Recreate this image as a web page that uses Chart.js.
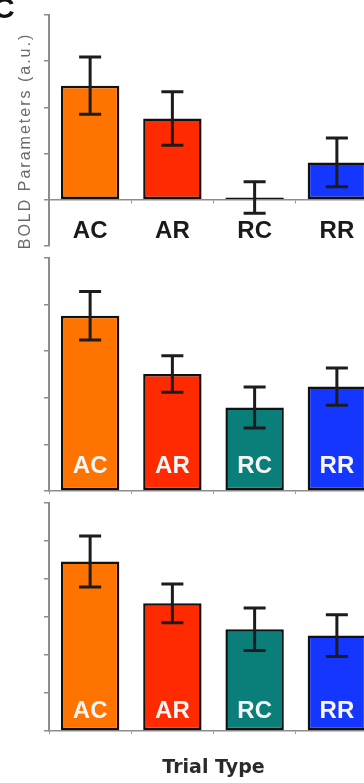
<!DOCTYPE html>
<html>
<head>
<meta charset="utf-8">
<script src="https://cdn.jsdelivr.net/npm/chart.js@4/dist/chart.umd.min.js"></script>
<style>
  html, body { margin: 0; padding: 0; background: #fff; overflow: hidden; width: 364px; height: 783px; }
  .panel { position: absolute; left: 0; }
  .panel canvas { display: block; }
  #tag { position: absolute; left: -7px; top: -9px; font: bold 30px "Liberation Sans", Arial, sans-serif; line-height: 34px; color: #111; z-index: 2; }
</style>
</head>
<body>
<div class="panel" style="top:0"><canvas id="c1" width="380" height="252"></canvas></div>
<div class="panel" style="top:252px"><canvas id="c2" width="380" height="243"></canvas></div>
<div class="panel" style="top:495px"><canvas id="c3" width="380" height="288"></canvas></div>
<div id="tag">C</div>
<script>
// Trial types and their bar colours
const trialTypes = ['AC', 'AR', 'RC', 'RR'];
const barColors = ['#FF7300', '#FF2A00', '#0A7F7A', '#1536FF'];

// BOLD parameter estimates (a.u.) and their error bars, one pair per panel
const panel1Values = [2.47, 1.76, 0.05, 0.81];
const panel1Errors = [0.62, 0.58, 0.34, 0.53];
const panel2Values = [3.76, 2.51, 1.79, 2.24];
const panel2Errors = [0.52, 0.39, 0.44, 0.40];
const panel3Values = [4.46, 3.36, 2.68, 2.51];
const panel3Errors = [0.67, 0.51, 0.56, 0.55];

// Value-axis ranges (unlabelled ticks every 1 unit)
const panel1Range = [-1, 4];
const panel2Range = [0, 5];
const panel3Range = [0, 6];

const yAxisTitle = 'BOLD Parameters (a.u.)';
const xAxisTitle = 'Trial Type';

// Error bars plus the category names written on or under each bar
const barDecor = {
  id: 'barDecor',
  afterDatasetsDraw(chart, args, opts) {
    const ctx = chart.ctx;
    const y = chart.scales.y;
    const x = chart.scales.x;
    const vals = chart.data.datasets[0].data;
    const meta = chart.getDatasetMeta(0);
    ctx.save();
    ctx.strokeStyle = '#1c1c1c';
    ctx.lineWidth = 3;
    meta.data.forEach((bar, i) => {
      const cx = bar.x;
      const hi = y.getPixelForValue(vals[i] + opts.errors[i]);
      const lo = y.getPixelForValue(vals[i] - opts.errors[i]);
      ctx.beginPath();
      ctx.moveTo(cx, hi); ctx.lineTo(cx, lo);
      ctx.moveTo(cx - 11, hi); ctx.lineTo(cx + 11, hi);
      ctx.moveTo(cx - 11, lo); ctx.lineTo(cx + 11, lo);
      ctx.stroke();
    });
    ctx.font = 'bold 24px "Liberation Sans", Arial, sans-serif';
    ctx.fillStyle = opts.labelColor;
    ctx.textAlign = 'center';
    ctx.textBaseline = 'middle';
    const ly = y.getPixelForValue(0) + opts.labelOffset;
    chart.data.labels.forEach((lab, i) => {
      ctx.fillText(lab, x.getPixelForValue(i), ly);
    });
    ctx.restore();
  }
};

// Rotated value-axis caption with widened letter spacing
const sideTitle = {
  id: 'sideTitle',
  afterDraw(chart, args, opts) {
    if (!opts.text) return;
    const ctx = chart.ctx;
    ctx.save();
    ctx.translate(opts.x, opts.y);
    ctx.rotate(-Math.PI / 2);
    ctx.font = '16px "Liberation Sans", Arial, sans-serif';
    if ('letterSpacing' in ctx) ctx.letterSpacing = '2px';
    ctx.fillStyle = '#6a6a6a';
    ctx.textAlign = 'center';
    ctx.textBaseline = 'middle';
    ctx.fillText(opts.text, 0, 0);
    ctx.restore();
  }
};

function makePanel(id, values, errors, range, cfg) {
  return new Chart(document.getElementById(id), {
    type: 'bar',
    data: {
      labels: trialTypes,
      datasets: [{
        data: values,
        backgroundColor: barColors,
        borderColor: '#111',
        borderWidth: 2.5,
        borderSkipped: false,
        barPercentage: 0.71,
        categoryPercentage: 1.0
      }]
    },
    plugins: [barDecor, sideTitle],
    options: {
      responsive: false,
      animation: false,
      events: [],
      layout: { padding: { top: cfg.padTop, bottom: cfg.padBottom, left: 0, right: 2 } },
      plugins: {
        legend: { display: false },
        tooltip: { enabled: false },
        barDecor: { errors: errors, labelColor: cfg.labelColor, labelOffset: cfg.labelOffset },
        sideTitle: cfg.side || {}
      },
      scales: {
        x: {
          position: cfg.xPosition,
          ticks: { display: false },
          grid: { drawOnChartArea: false, tickLength: 3, color: '#999', offset: true },
          border: { color: '#8c8c8c', width: 1.5 },
          title: cfg.xTitle || { display: false },
          afterFit(s) { s.height = cfg.xHeight; }
        },
        y: {
          min: range[0],
          max: range[1],
          ticks: { display: false, stepSize: 1 },
          grid: { drawOnChartArea: false, tickLength: 5, color: '#8c8c8c', lineWidth: 1.5 },
          border: { color: '#8c8c8c', width: 2 },
          afterFit(s) { s.width = 49; }
        }
      }
    }
  });
}

makePanel('c1', panel1Values, panel1Errors, panel1Range, {
  padTop: 15, padBottom: 6, xPosition: { y: 0 }, xHeight: 0,
  labelColor: '#1a1a1a', labelOffset: 32,
  side: { text: yAxisTitle, x: 26, y: 141 }
});

makePanel('c2', panel2Values, panel2Errors, panel2Range, {
  padTop: 6, padBottom: 4, xPosition: 'bottom', xHeight: 0,
  labelColor: '#f6f6f6', labelOffset: -25
});

makePanel('c3', panel3Values, panel3Errors, panel3Range, {
  padTop: 8, padBottom: 0, xPosition: 'bottom', xHeight: 52,
  labelColor: '#f6f6f6', labelOffset: -20,
  xTitle: {
    display: true, text: xAxisTitle, color: '#2a2a2a',
    font: { family: 'DejaVu Sans', weight: 'bold', size: 19 },
    padding: { top: 0, bottom: 4 }
  }
});
</script>
</body>
</html>
